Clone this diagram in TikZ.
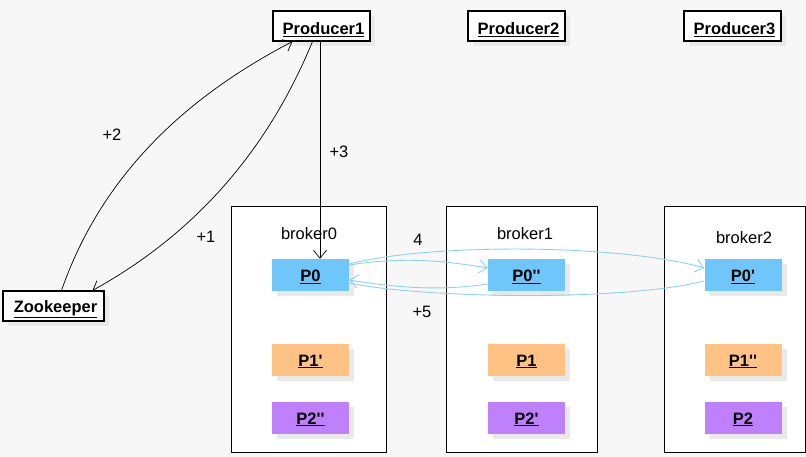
\documentclass[tikz,border=0pt]{standalone}
\usepackage{fontspec}
\setmainfont{Liberation Sans}[Ligatures=TeXOff]
\usetikzlibrary{arrows.meta,shadows}
\definecolor{bg}{HTML}{F7F7F7}
\definecolor{shd}{HTML}{E9E9E9}
\definecolor{pblue}{HTML}{6EC6FA}
\definecolor{porange}{HTML}{FFC285}
\definecolor{ppurple}{HTML}{BF80FC}
\definecolor{lblue}{HTML}{8ED2F2}
\newcommand{\actortext}[1]{\hspace{4pt}\raisebox{-3.5pt}[\height][\depth]{\underline{#1}}}
\newcommand{\parttext}[1]{\raisebox{-1.5pt}[\height][\depth]{\underline{#1}}}
\tikzset{
  myshadow/.style={copy shadow={shadow xshift=5pt,shadow yshift=-5pt,fill=shd,draw=none}},
  actor/.style={draw=black,line width=1.1pt,fill=white,minimum width=97pt,minimum height=30pt,inner sep=0pt,font=\fontsize{16.5}{18}\selectfont\bfseries,myshadow},
  brokerbox/.style={draw=black,line width=0.8pt,fill=white,minimum width=155pt,minimum height=246pt,inner sep=0pt},
  part/.style={draw=none,minimum width=77pt,minimum height=32pt,inner sep=0pt,font=\fontsize{16.5}{18}\selectfont\bfseries,myshadow},
  lbl/.style={font=\fontsize{16.5}{18}\selectfont,inner sep=0pt},
  blk/.style={draw=black,line width=0.7pt,-{Straight Barb[length=8pt,width=13pt]}},
  blu/.style={draw=lblue,line width=0.9pt,-{Straight Barb[length=8pt,width=13pt]}}
}
\begin{document}
\begin{tikzpicture}[x=1pt,y=-1pt]
\fill[bg] (0,0) rectangle (806,457);
\useasboundingbox (0,0) rectangle (806,457);
% brokers
\node[brokerbox] (b0) at (308.5,329) {};
\node[brokerbox,minimum width=151pt] (b1) at (521.5,329) {};
\node[brokerbox,minimum width=141pt] (b2) at (734.5,329) {};
\node[lbl] (b0l) at (309,234) {broker0};
\node[lbl] (b1l) at (525,234) {broker1};
\node[lbl] (b2l) at (744,238) {broker2};
% producers
\node[actor] (pr1) at (321.5,26) {\actortext{Producer1}};
\node[actor] (pr2) at (516.5,26) {\actortext{Producer2}};
\node[actor] (pr3) at (732.5,26) {\actortext{Producer3}};
\node[actor,minimum width=101pt] (zk) at (53.5,306) {\actortext{Zookeeper}};
% partitions
\node[part,fill=pblue] (p00) at (310.5,275) {\parttext{P0}};
\node[part,fill=pblue] (p01) at (526.5,275) {\parttext{P0''}};
\node[part,fill=pblue] (p02) at (743,275) {\parttext{P0'}};
\node[part,fill=porange] (p10) at (310.5,360) {\parttext{P1'}};
\node[part,fill=porange] (p11) at (526.5,360) {\parttext{P1}};
\node[part,fill=porange] (p12) at (743,360) {\parttext{P1''}};
\node[part,fill=ppurple] (p20) at (310.5,418) {\parttext{P2''}};
\node[part,fill=ppurple] (p21) at (526.5,418) {\parttext{P2'}};
\node[part,fill=ppurple] (p22) at (743,418) {\parttext{P2}};
% labels
\node[lbl] (l2) at (112,135) {+2};
\node[lbl] (l1) at (206,237) {+1};
\node[lbl] (l3) at (339,152) {+3};
\node[lbl] (l4) at (418,240) {4};
\node[lbl] (l5) at (422,312) {+5};
% black arrows
\coordinate (p1s) at ([xshift=-1.5pt]pr1.south);
\draw[blk] (p1s) -- (p1s |- p00.north);
\draw[blk] ([xshift=8pt]zk.north) .. controls (100,180) and (180,100) .. ([xshift=20pt]pr1.south west);
\draw[blk] ([xshift=-9pt]pr1.south) .. controls (280,120) and (220,220) .. ([xshift=-12pt]zk.north east);
% blue arrows
\draw[blu] ([yshift=10pt]p00.east) .. controls (400,257) and (440,260) .. ([yshift=7pt]p01.west);
\draw[blu] ([yshift=11pt]p00.east) .. controls (430,243) and (620,244) .. ([yshift=7pt]p02.west);
\draw[blu] ([yshift=-9pt]p01.west) .. controls (440,291) and (400,288) .. ([yshift=-5pt]p00.east);
\draw[blu,-] ([yshift=-6pt]p02.west) .. controls (620,302) and (420,298) .. ([yshift=-8pt]p00.east);
\end{tikzpicture}
\end{document}
